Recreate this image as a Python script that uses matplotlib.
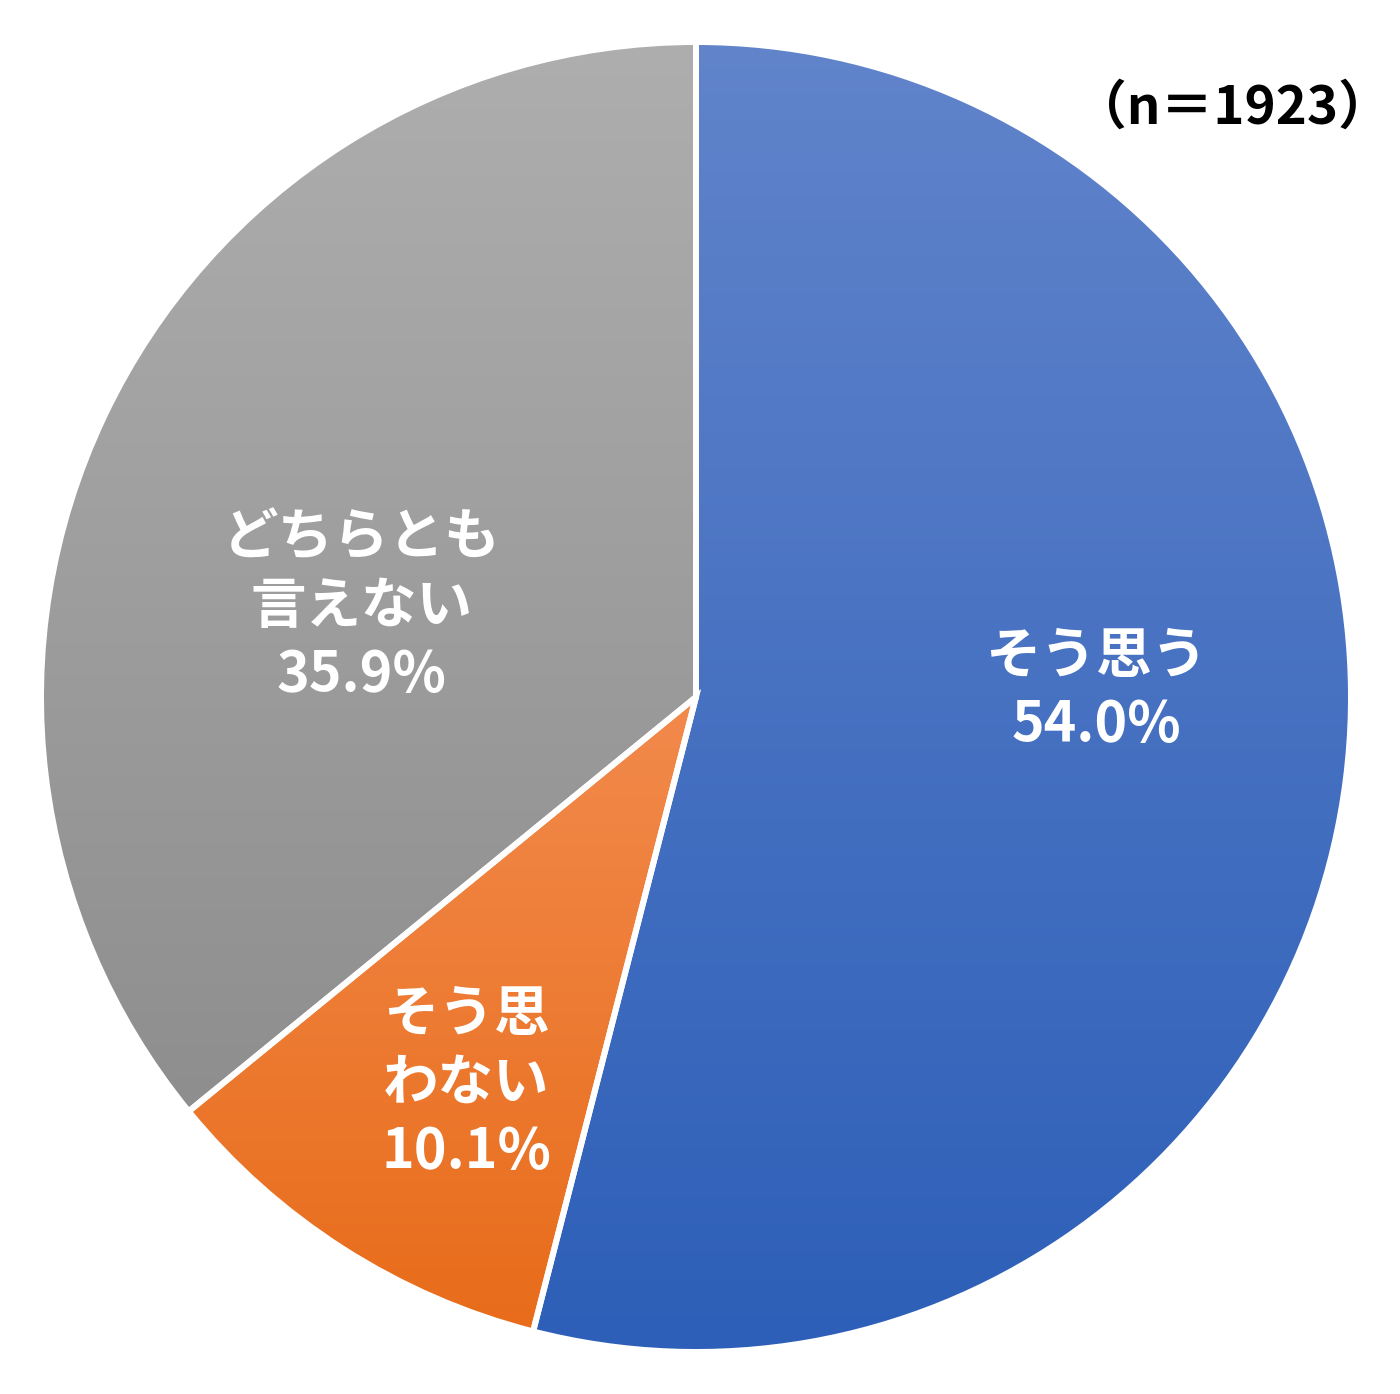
import numpy as np
import matplotlib
matplotlib.use("Agg")
import matplotlib.pyplot as plt
from matplotlib.colors import LinearSegmentedColormap

plt.rcParams['font.family'] = ['Noto Sans CJK JP', 'DejaVu Sans']

labels = ["そう思う", "そう思\nわない", "どちらとも\n言えない"]
values = [54.0, 10.1, 35.9]
top_colors = ["#6184CB", "#F28A4C", "#AEAEAE"]
bottom_colors = ["#2D5FB8", "#E86C1A", "#8E8E8E"]
label_pos = [(0.611, 0.009), (-0.351, -0.590), (-0.511, 0.138)]
note = "（n＝1923）"

W, H = 1400, 1394
cx, cy, r = 696, H - 697, 655

fig = plt.figure(figsize=(W / 100, H / 100), dpi=100)
ax = fig.add_axes([0, 0, 1, 1])

wedges, _ = ax.pie(values, startangle=90, counterclock=False,
                   center=(cx, cy), radius=r, frame=True,
                   wedgeprops=dict(edgecolor="white", linewidth=4.3))
ax.set_xlim(0, W)
ax.set_ylim(0, H)
ax.set_aspect("equal")
ax.axis("off")

# vertical gradient per slice, like the office chart fill
grad = np.linspace(0, 1, 256).reshape(-1, 1)
inv = ax.transData.inverted()
for w, c0, c1 in zip(wedges, top_colors, bottom_colors):
    w.set_facecolor("none")
    bb = w.get_path().get_extents(w.get_transform())
    (x0, y0), (x1, y1) = inv.transform([[bb.x0, bb.y0], [bb.x1, bb.y1]])
    cmap = LinearSegmentedColormap.from_list("g", [c0, c1])
    im = ax.imshow(grad, cmap=cmap, aspect="auto",
                   extent=(x0, x1, y0, y1), origin="upper", zorder=1)
    im.set_clip_path(w)
    w.set_zorder(2)

for (fx, fy), lab, v in zip(label_pos, labels, values):
    ax.text(cx + fx * r, cy + fy * r, f"{lab}\n{v:.1f}%",
            ha="center", va="center", color="white", fontsize=40,
            fontweight="bold", linespacing=1.28, zorder=3)

ax.text(1232, H - 108, note, ha="center", va="center", color="black",
        fontsize=38, fontweight="bold", zorder=3)

fig.savefig("out.png", dpi=100)
